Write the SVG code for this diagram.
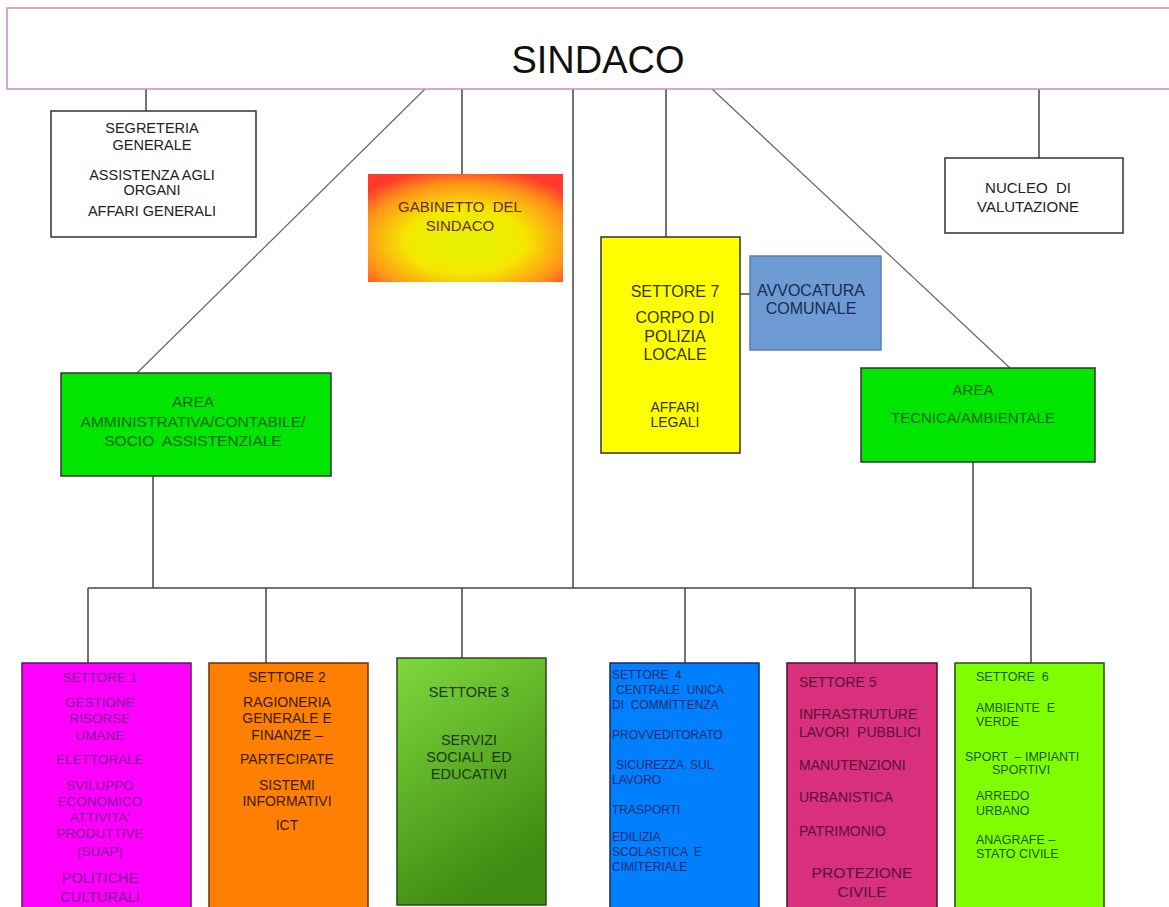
<svg xmlns="http://www.w3.org/2000/svg" width="1169" height="907" viewBox="0 0 1169 907">
<defs>
<radialGradient id="gab" cx="0.5" cy="0.62" r="0.68" gradientUnits="objectBoundingBox">
<stop offset="0" stop-color="#e2f400"/>
<stop offset="0.45" stop-color="#f4e800"/>
<stop offset="0.78" stop-color="#ff9418"/>
<stop offset="1" stop-color="#ff3a2a"/>
</radialGradient>
<linearGradient id="s3" x1="0" y1="0" x2="0.4" y2="1">
<stop offset="0" stop-color="#7ed83c"/>
<stop offset="1" stop-color="#3f8c12"/>
</linearGradient>
</defs>
<style>
text{font-family:"Liberation Sans",Arial,sans-serif;}
.c{text-anchor:middle;}
.box{stroke:#333;stroke-width:1.5;}
.ln{stroke:#444;stroke-width:1.5;fill:none;}
.dg{stroke:#666;stroke-width:1.2;fill:none;}
</style>
<rect width="1169" height="907" fill="#ffffff"/>

<g id="connectors">
<line class="ln" x1="146" y1="89" x2="146" y2="111"/>
<line class="dg" x1="425" y1="89" x2="137" y2="373"/>
<line class="ln" x1="462" y1="89" x2="462" y2="174"/>
<line class="ln" x1="573" y1="89" x2="573" y2="588"/>
<line class="ln" x1="666" y1="89" x2="666" y2="237"/>
<line class="dg" x1="712" y1="89" x2="1010" y2="368"/>
<line class="ln" x1="1039" y1="89" x2="1039" y2="158"/>
<line class="ln" x1="740" y1="294" x2="750" y2="294"/>
<line class="ln" x1="153" y1="476" x2="153" y2="588"/>
<line class="ln" x1="973" y1="462" x2="973" y2="588"/>
<line class="ln" x1="88" y1="588" x2="1031" y2="588"/>
<line class="ln" x1="88" y1="588" x2="88" y2="663"/>
<line class="ln" x1="266" y1="588" x2="266" y2="663"/>
<line class="ln" x1="462" y1="588" x2="462" y2="658"/>
<line class="ln" x1="685" y1="588" x2="685" y2="663"/>
<line class="ln" x1="855" y1="588" x2="855" y2="663"/>
<line class="ln" x1="1031" y1="588" x2="1031" y2="663"/>
</g>

<g id="sindaco">
<rect x="7" y="8" width="1175" height="81" fill="#ffffff" stroke="#c48ccc" stroke-width="1.5"/>
<text class="c" x="598" y="73" font-size="38" fill="#111">SINDACO</text>
</g>

<g id="segreteria">
<rect class="box" x="51" y="111" width="205" height="126" fill="#ffffff"/>
<g font-size="14.5" fill="#222">
<text class="c" x="152" y="133">SEGRETERIA</text>
<text class="c" x="152" y="150">GENERALE</text>
<text class="c" x="152" y="180">ASSISTENZA AGLI</text>
<text class="c" x="152" y="195">ORGANI</text>
<text class="c" x="152" y="216">AFFARI GENERALI</text>
</g>
</g>

<g id="gabinetto">
<rect x="368" y="174" width="195" height="108" fill="url(#gab)"/>
<g font-size="15" fill="#6a2a18">
<text class="c" x="460" y="212" xml:space="preserve">GABINETTO  DEL</text>
<text class="c" x="460" y="231">SINDACO</text>
</g>
</g>

<g id="settore7">
<rect class="box" x="601" y="237" width="139" height="216" fill="#ffff00"/>
<g fill="#333300">
<text class="c" x="675" y="297" font-size="16">SETTORE 7</text>
<text class="c" x="675" y="323" font-size="16">CORPO DI</text>
<text class="c" x="675" y="342" font-size="16">POLIZIA</text>
<text class="c" x="675" y="360" font-size="16">LOCALE</text>
<text class="c" x="675" y="412" font-size="14">AFFARI</text>
<text class="c" x="675" y="427" font-size="14">LEGALI</text>
</g>
</g>

<g id="avvocatura">
<rect x="750" y="256" width="131" height="94" fill="#6f9bd4" stroke="#5a7fb0" stroke-width="1.5"/>
<g font-size="16" fill="#1a2a50">
<text class="c" x="811" y="296">AVVOCATURA</text>
<text class="c" x="811" y="314">COMUNALE</text>
</g>
</g>

<g id="nucleo">
<rect class="box" x="945" y="158" width="178" height="75" fill="#ffffff"/>
<g font-size="15" fill="#222">
<text class="c" x="1028" y="193" xml:space="preserve">NUCLEO  DI</text>
<text class="c" x="1028" y="212">VALUTAZIONE</text>
</g>
</g>

<g id="area-amministrativa">
<rect class="box" x="61" y="373" width="270" height="103" fill="#00e600"/>
<g font-size="15.5" fill="#116611">
<text class="c" x="193" y="407">AREA</text>
<text class="c" x="193" y="427">AMMINISTRATIVA/CONTABILE/</text>
<text class="c" x="193" y="446" xml:space="preserve">SOCIO  ASSISTENZIALE</text>
</g>
</g>

<g id="area-tecnica">
<rect class="box" x="861" y="368" width="234" height="94" fill="#00e600"/>
<g font-size="15" fill="#116611">
<text class="c" x="973" y="395">AREA</text>
<text class="c" x="973" y="423">TECNICA/AMBIENTALE</text>
</g>
</g>

<g id="settore1">
<rect x="22" y="663" width="169" height="260" fill="#ff00ff" stroke="#5a1a5a" stroke-width="1.5"/>
<g font-size="13.5" fill="#7a1f90">
<text class="c" x="100" y="682">SETTORE 1</text>
<text class="c" x="100" y="707">GESTIONE</text>
<text class="c" x="100" y="723">RISORSE</text>
<text class="c" x="100" y="740">UMANE</text>
<text class="c" x="100" y="764">ELETTORALE</text>
<text class="c" x="100" y="790">SVILUPPO</text>
<text class="c" x="100" y="806">ECONOMICO</text>
<text class="c" x="100" y="822">ATTIVITA'</text>
<text class="c" x="100" y="838">PRODUTTIVE</text>
<text class="c" x="100" y="856">(SUAP)</text>
<text class="c" x="100" y="883" font-size="14.5">POLITICHE</text>
<text class="c" x="100" y="902" font-size="14.5">CULTURALI</text>
</g>
</g>

<g id="settore2">
<rect x="209" y="663" width="159" height="260" fill="#ff8000" stroke="#6a3010" stroke-width="1.5"/>
<g font-size="14" fill="#3a1a00">
<text class="c" x="287" y="682">SETTORE 2</text>
<text class="c" x="287" y="707">RAGIONERIA</text>
<text class="c" x="287" y="723">GENERALE E</text>
<text class="c" x="287" y="740">FINANZE –</text>
<text class="c" x="287" y="764">PARTECIPATE</text>
<text class="c" x="287" y="790">SISTEMI</text>
<text class="c" x="287" y="806">INFORMATIVI</text>
<text class="c" x="287" y="830">ICT</text>
</g>
</g>

<g id="settore3">
<rect x="397" y="658" width="149" height="247" fill="url(#s3)" stroke="#2a4a1a" stroke-width="1.5"/>
<g font-size="14.5" fill="#1a3a10">
<text class="c" x="469" y="697">SETTORE 3</text>
<text class="c" x="469" y="745">SERVIZI</text>
<text class="c" x="469" y="762" xml:space="preserve">SOCIALI  ED</text>
<text class="c" x="469" y="779">EDUCATIVI</text>
</g>
</g>

<g id="settore4">
<rect x="610" y="663" width="149" height="260" fill="#0080ff" stroke="#1a2a60" stroke-width="1.5"/>
<g font-size="12" fill="#1a2a70">
<text x="612" y="679" xml:space="preserve">SETTORE  4</text>
<text x="616" y="694" xml:space="preserve">CENTRALE  UNICA</text>
<text x="612" y="709" xml:space="preserve">DI  COMMITTENZA</text>
<text x="612" y="739">PROVVEDITORATO</text>
<text x="616" y="769" xml:space="preserve">SICUREZZA  SUL</text>
<text x="612" y="784">LAVORO</text>
<text x="612" y="814">TRASPORTI</text>
<text x="612" y="841">EDILIZIA</text>
<text x="612" y="856" xml:space="preserve">SCOLASTICA  E</text>
<text x="612" y="871">CIMITERIALE</text>
</g>
</g>

<g id="settore5">
<rect x="787" y="663" width="150" height="260" fill="#d8307c" stroke="#4a1030" stroke-width="1.5"/>
<g font-size="14" fill="#5a1038">
<text x="799" y="687">SETTORE 5</text>
<text x="799" y="719">INFRASTRUTURE</text>
<text x="799" y="737" xml:space="preserve">LAVORI  PUBBLICI</text>
<text x="799" y="770">MANUTENZIONI</text>
<text x="799" y="802">URBANISTICA</text>
<text x="799" y="836">PATRIMONIO</text>
<text class="c" x="862" y="878" font-size="15.5">PROTEZIONE</text>
<text class="c" x="862" y="897" font-size="15.5">CIVILE</text>
</g>
</g>

<g id="settore6">
<rect x="955" y="663" width="149" height="260" fill="#80ff00" stroke="#2a4a10" stroke-width="1.5"/>
<g font-size="12.5" fill="#1a5a10">
<text x="976" y="681" xml:space="preserve">SETTORE  6</text>
<text x="976" y="712" xml:space="preserve">AMBIENTE  E</text>
<text x="976" y="726">VERDE</text>
<text x="965" y="761" xml:space="preserve">SPORT  – IMPIANTI</text>
<text x="992" y="774">SPORTIVI</text>
<text x="976" y="800">ARREDO</text>
<text x="976" y="815">URBANO</text>
<text x="976" y="844">ANAGRAFE –</text>
<text x="976" y="858">STATO CIVILE</text>
</g>
</g>
</svg>
